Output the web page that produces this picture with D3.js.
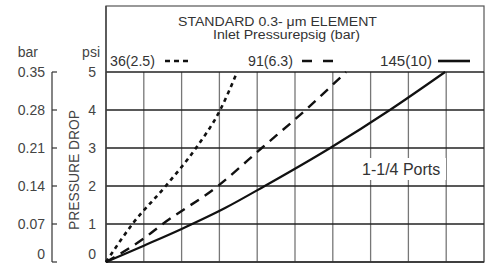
<!DOCTYPE html>
<html>
<head>
<meta charset="utf-8">
<script src="https://cdn.jsdelivr.net/npm/d3@7"></script>
<style>
  body { margin: 0; background: #fff; }
  svg { display: block; font-family: "Liberation Sans", Arial, sans-serif; }
</style>
</head>
<body>
<div id="chart"></div>
<script>
// values (x in grid divisions, y in psi)
const psiTicks = [0, 1, 2, 3, 4, 5];
const barTicks = [0, 0.07, 0.14, 0.21, 0.28, 0.35];
const gridCols = d3.range(0, 11);

const series36 = [[0, 0], [0.7, 1], [1.58, 2], [2.38, 3], [3.02, 4], [3.47, 5]];
const series91 = [[0, 0], [1, 0.62], [1.5, 1], [2.96, 2], [4.12, 3], [5.28, 4], [6.35, 5]];
const series145 = [[0, 0], [1, 0.43], [2, 0.87], [3.15, 1.42], [4.2, 2], [5.93, 3], [7.51, 4], [8.97, 5]];

const legendLabels = ["36(2.5)", "91(6.3)", "145(10)"];
const titleLines = ["STANDARD 0.3- μm ELEMENT", "Inlet Pressurepsig (bar)"];

const width = 494, height = 263;
const plotLeft = 106, plotRight = 484, plotTop = 72, plotBottom = 262, boxTop = 6;

const svg = d3.select("#chart").append("svg")
  .attr("width", width)
  .attr("height", height);

const x = d3.scaleLinear().domain([0, 10]).range([plotLeft, plotRight]);
const y = d3.scaleLinear().domain([0, 5]).range([plotBottom, plotTop]);
const yBar = d3.scaleLinear().domain([0, 0.35]).range([plotBottom, plotTop]);

// header box outline
svg.append("rect")
  .attr("x", plotLeft).attr("y", boxTop)
  .attr("width", plotRight - plotLeft).attr("height", plotBottom - boxTop)
  .attr("fill", "none").attr("stroke", "#555").attr("stroke-width", 1.2);

// vertical grid
svg.append("g").selectAll("line").data(gridCols).join("line")
  .attr("x1", (d) => x(d)).attr("x2", (d) => x(d))
  .attr("y1", plotTop).attr("y2", plotBottom)
  .attr("stroke", "#777").attr("stroke-width", 1.3);

// horizontal grid
svg.append("g").selectAll("line").data(psiTicks).join("line")
  .attr("x1", plotLeft).attr("x2", plotRight)
  .attr("y1", (d) => y(d)).attr("y2", (d) => y(d))
  .attr("stroke", "#222").attr("stroke-width", 1.6);

// left border darker
svg.append("line")
  .attr("x1", plotLeft).attr("x2", plotLeft).attr("y1", boxTop).attr("y2", plotBottom)
  .attr("stroke", "#444").attr("stroke-width", 1.4);

// "1-1/4 Ports" label with white background
svg.append("rect")
  .attr("x", 360).attr("y", 158).attr("width", 86).attr("height", 22)
  .attr("fill", "#fff");
svg.append("text")
  .attr("x", 362).attr("y", 175)
  .attr("font-size", 16).attr("fill", "#333")
  .text("1-1/4 Ports");

// curves
const line = d3.line()
  .x((d) => x(d[0]))
  .y((d) => y(d[1]))
  .curve(d3.curveMonotoneX);

const styles = [
  { data: series36, dash: "4,4", width: 2.6 },
  { data: series91, dash: "10,7", width: 2.4 },
  { data: series145, dash: null, width: 2.2 },
];

styles.forEach((s) => {
  svg.append("path")
    .datum(s.data)
    .attr("d", line)
    .attr("fill", "none")
    .attr("stroke", "#111")
    .attr("stroke-width", s.width)
    .attr("stroke-dasharray", s.dash);
});

// title
svg.append("text")
  .attr("x", 178).attr("y", 26)
  .attr("font-size", 12.5).attr("fill", "#333")
  .attr("textLength", 199).attr("lengthAdjust", "spacingAndGlyphs")
  .text(titleLines[0]);
svg.append("text")
  .attr("x", 213).attr("y", 39)
  .attr("font-size", 12.5).attr("fill", "#333")
  .attr("textLength", 147).attr("lengthAdjust", "spacingAndGlyphs")
  .text(titleLines[1]);

// legend
const legendItems = [
  { label: legendLabels[0], tx: 110, tw: 45, x1: 165, x2: 192, dash: "5,4", width: 2.6 },
  { label: legendLabels[1], tx: 248, tw: 45, x1: 302, x2: 333, dash: "10,11", width: 2.6 },
  { label: legendLabels[2], tx: 380, tw: 52, x1: 438, x2: 470, dash: null, width: 2.6 },
];
legendItems.forEach((d) => {
  svg.append("text")
    .attr("x", d.tx).attr("y", 66)
    .attr("font-size", 14).attr("fill", "#333")
    .attr("textLength", d.tw).attr("lengthAdjust", "spacingAndGlyphs")
    .text(d.label);
  svg.append("line")
    .attr("x1", d.x1).attr("x2", d.x2).attr("y1", 61).attr("y2", 61)
    .attr("stroke", "#111").attr("stroke-width", d.width)
    .attr("stroke-dasharray", d.dash);
});

// psi labels (the bottom one is nudged up to stay inside the frame)
svg.append("g").selectAll("text").data(psiTicks).join("text")
  .attr("x", 96).attr("y", (d) => Math.min(y(d) + 4.5, 259))
  .attr("text-anchor", "end")
  .attr("font-size", 14).attr("fill", "#444")
  .text((d) => d);
svg.append("text")
  .attr("x", 100).attr("y", 57).attr("text-anchor", "end")
  .attr("font-size", 14).attr("fill", "#444").text("psi");

// bar axis
const barAxis = svg.append("g");
barAxis.append("line")
  .attr("x1", 52).attr("x2", 52).attr("y1", plotTop).attr("y2", plotBottom)
  .attr("stroke", "#333").attr("stroke-width", 1.2);
barAxis.selectAll(".tick").data(barTicks).join("line")
  .attr("class", "tick")
  .attr("x1", 52).attr("x2", 57)
  .attr("y1", (d) => yBar(d)).attr("y2", (d) => yBar(d))
  .attr("stroke", "#333").attr("stroke-width", 1.2);
barAxis.selectAll("text").data(barTicks).join("text")
  .attr("x", 45).attr("y", (d) => Math.min(yBar(d) + 4.5, 259))
  .attr("text-anchor", "end")
  .attr("font-size", 14).attr("fill", "#444")
  .text((d) => (d === 0 ? "0" : d3.format(".2f")(d)));
svg.append("text")
  .attr("x", 38).attr("y", 57).attr("text-anchor", "end")
  .attr("font-size", 14).attr("fill", "#444").text("bar");

// rotated axis title
svg.append("text")
  .attr("transform", "translate(79,170) rotate(-90)")
  .attr("text-anchor", "middle")
  .attr("font-size", 14).attr("fill", "#444")
  .attr("textLength", 120).attr("lengthAdjust", "spacingAndGlyphs")
  .text("PRESSURE DROP");
</script>
</body>
</html>
